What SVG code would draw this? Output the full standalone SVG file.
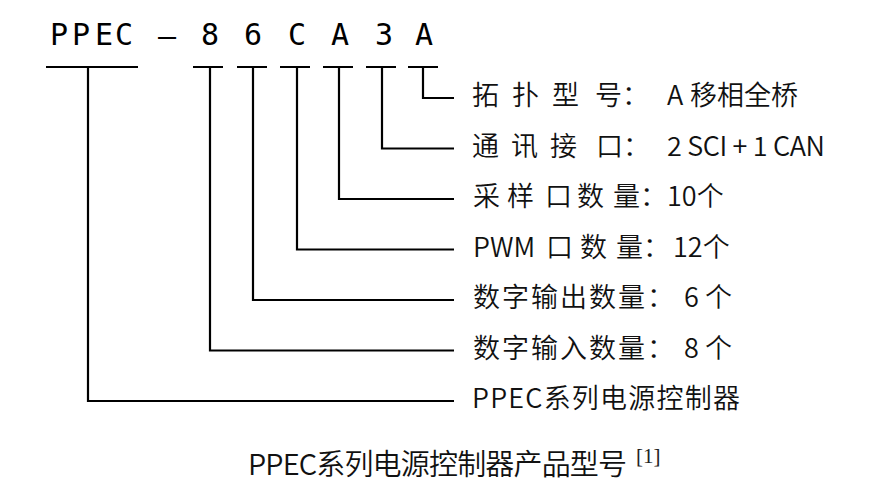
<svg xmlns="http://www.w3.org/2000/svg" width="880" height="504" viewBox="0 0 880 504">
<style>
.code{font-family:"DejaVu Sans Mono",monospace;font-size:30px;fill:#000;text-anchor:middle}
.lbl{font-family:"Noto Sans CJK SC","Noto Sans",sans-serif;font-size:27px;font-weight:350;fill:#111}
.cap{font-family:"Noto Sans CJK SC","Noto Sans",sans-serif;font-size:29px;font-weight:350;fill:#111}
.ref{font-family:"Liberation Serif",serif;font-size:21px;fill:#222}
.ln{stroke:#000;stroke-width:2.2;fill:none}
</style>
<rect width="880" height="504" fill="#fff"/>
<g id="code">
<text class="code" y="45"><tspan x="59">P</tspan><tspan x="81">P</tspan><tspan x="104">E</tspan><tspan x="124">C</tspan></text>
<text class="code" x="167" y="46">–</text>
<text class="code" x="210" y="45">8</text>
<text class="code" x="253" y="45">6</text>
<text class="code" x="297" y="45">C</text>
<text class="code" x="340" y="45">A</text>
<text class="code" x="384" y="45">3</text>
<text class="code" x="424" y="45">A</text>
</g>
<g id="connectors">
<path class="ln" d="M46 67H138M193 67H223M237 67H267M280 67H310M323 67H353M366 67H396M408 67H438"/>
<path class="ln" d="M423 67V98H454"/>
<path class="ln" d="M382 67V148.5H454"/>
<path class="ln" d="M339 67V199H454"/>
<path class="ln" d="M297 67V249.5H454"/>
<path class="ln" d="M253 67V300H454"/>
<path class="ln" d="M210 67V350.5H454"/>
<path class="ln" d="M88 67V401H454"/>
</g>
<g id="topology">
<text class="lbl" y="105"><tspan x="472">拓</tspan><tspan x="512">扑</tspan><tspan x="552">型</tspan><tspan x="595">号：</tspan><tspan x="667">A</tspan><tspan x="690">移相全桥</tspan></text>
</g>
<g id="comm">
<text class="lbl" y="155.5"><tspan x="472">通</tspan><tspan x="511">讯</tspan><tspan x="550">接</tspan><tspan x="596">口：</tspan></text>
<text class="lbl" x="667" y="155.5" textLength="158" lengthAdjust="spacing">2 SCI + 1 CAN</text>
</g>
<g id="sampling">
<text class="lbl" y="206"><tspan x="473">采</tspan><tspan x="507">样</tspan><tspan x="545">口</tspan><tspan x="577">数</tspan><tspan x="613">量：</tspan><tspan x="667">10个</tspan></text>
</g>
<g id="pwm">
<text class="lbl" y="256.5"><tspan x="473">PWM</tspan><tspan x="546">口</tspan><tspan x="580">数</tspan><tspan x="616">量：</tspan><tspan x="673">12个</tspan></text>
</g>
<g id="dout">
<text class="lbl" y="307"><tspan x="473" letter-spacing="2">数字输出数量：</tspan><tspan x="684">6</tspan><tspan x="705">个</tspan></text>
</g>
<g id="din">
<text class="lbl" y="357.5"><tspan x="473" letter-spacing="2">数字输入数量：</tspan><tspan x="684">8</tspan><tspan x="705">个</tspan></text>
</g>
<g id="series">
<text class="lbl" x="472" y="408" textLength="268" lengthAdjust="spacing">PPEC系列电源控制器</text>
</g>
<g id="caption">
<text class="cap" x="248" y="475" textLength="379" lengthAdjust="spacing">PPEC系列电源控制器产品型号</text>
<text class="ref" x="636" y="463">[1]</text>
</g>
</svg>
